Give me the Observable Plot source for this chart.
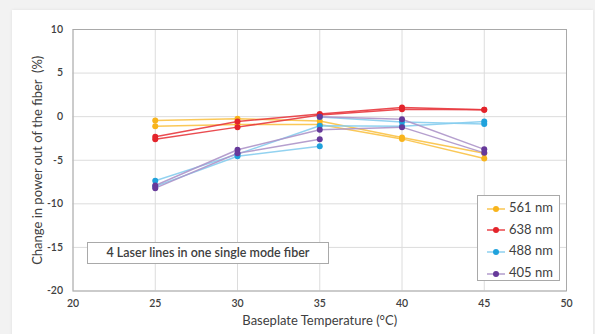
<!DOCTYPE html>
<html>
<head>
<meta charset="utf-8">
<script src="https://cdn.jsdelivr.net/npm/d3@7"></script>
<script src="https://cdn.jsdelivr.net/npm/@observablehq/plot@0.6"></script>
<style>
  html, body { margin: 0; padding: 0; background: #f2f2f2; }
  #wrap { position: relative; width: 595px; height: 334px; overflow: hidden; font-family: Lato, "Open Sans", sans-serif; }
  #card { position: absolute; left: 12px; top: 10px; width: 581px; height: 340px; background: #fff; box-shadow: 0 0 3px rgba(0,0,0,0.08); }
  #chart { position: absolute; left: 0; top: 0; }
  #note { position: absolute; left: 87px; top: 242px; width: 240px; height: 20px; border: 1px solid #a9a9a9; background: #fff;
          font-size: 12.5px; font-weight: 600; color: #404040; text-align: center; line-height: 20px; box-sizing: content-box; }
  #legend { position: absolute; left: 477px; top: 195px; width: 83px; height: 86px; border: 1px solid #a9a9a9; background: #fff; box-sizing: border-box; }
  .item { position: absolute; left: 8px; height: 16px; font-size: 13px; font-weight: 400; color: #404040; line-height: 16px; white-space: nowrap; }
  .item svg { vertical-align: middle; margin-right: 3px; }
</style>
</head>
<body>
<div id="wrap">
  <div id="card"></div>
  <div id="chart"></div>
  <div id="note"></div>
  <div id="legend"></div>
</div>
<script>
// ---- data ----
const temps = [25, 30, 35, 40, 45];
const xTicks = [20, 25, 30, 35, 40, 45, 50];
const yTicks = [-20, -15, -10, -5, 0, 5, 10];
const wavelengths = ["561 nm", "638 nm", "488 nm", "405 nm"];
const markerColors = ["#f8b41c", "#e3242b", "#20a2dc", "#66399a"];
const lineColors = ["#f9c246", "#e8383e", "#86cdee", "#ad95c9"];

const y561a = [-0.45, -0.25, -0.5, -2.4, -4.2];
const y561b = [-1.1, -0.9, -0.9, -2.55, -4.8];
const y638a = [-2.3, -0.55, 0.3, 1.05, 0.8];
const y638b = [-2.6, -1.2, 0.2, 0.85, 0.8];
const y488a = [-7.35, -4.3, -1.05, -1.1, -0.55];
const y488b = [-8.0, -4.55, -3.4, null, null];
const y488c = [null, null, -0.05, -0.6, -0.85];
const y405a = [-7.9, -3.8, -1.5, -1.2, -4.15];
const y405b = [-8.2, -4.2, -2.6, null, null];
const y405c = [null, null, 0.0, -0.3, -3.75];

const noteText = "4 Laser lines in one single mode fiber";
const xTitle = "Baseplate Temperature (°C)";
const yTitle = "Change in power out of the fiber  (%)";

// ---- build table ----
const seriesList = [
  ["561 nm", "a", y561a], ["561 nm", "b", y561b],
  ["638 nm", "a", y638a], ["638 nm", "b", y638b],
  ["488 nm", "a", y488a], ["488 nm", "b", y488b], ["488 nm", "c", y488c],
  ["405 nm", "a", y405a], ["405 nm", "b", y405b], ["405 nm", "c", y405c]
];
const rows = [];
for (const [wl, run, vals] of seriesList) {
  vals.forEach((v, i) => rows.push({wl, run, key: wl + run, t: temps[i], v}));
}
const pts = rows.filter(d => d.v != null);
const lineOf = Object.fromEntries(wavelengths.map((w, i) => [w, lineColors[i]]));
const markOf = Object.fromEntries(wavelengths.map((w, i) => [w, markerColors[i]]));

const chart = Plot.plot({
  width: 595,
  height: 334,
  marginLeft: 72.5,
  marginRight: 29,
  marginTop: 29,
  marginBottom: 43.5,
  style: {background: "transparent", fontFamily: "Lato, 'Open Sans', sans-serif", color: "#404040"},
  x: {domain: [20, 50], ticks: xTicks},
  y: {domain: [-20, 10], ticks: yTicks},
  marks: [
    Plot.gridX(xTicks, {stroke: "#dcdcdc", strokeOpacity: 1}),
    Plot.gridY(yTicks, {stroke: "#dcdcdc", strokeOpacity: 1}),
    Plot.frame({stroke: "#a9a9a9"}),
    Plot.axisX(xTicks, {tickSize: 0, tickPadding: 9, fontSize: 10.5, fontWeight: 600, tickFormat: d => String(d),
      label: xTitle, labelAnchor: "center", labelArrow: "none", labelOffset: 34}),
    Plot.axisY(yTicks, {tickSize: 0, tickPadding: 10, fontSize: 10.5, fontWeight: 600, tickFormat: d => String(d),
      label: yTitle, labelAnchor: "center", labelArrow: "none", labelOffset: 40}),
    Plot.line(rows, {x: "t", y: "v", z: "key", stroke: d => lineOf[d.wl], strokeWidth: 1.5, strokeOpacity: 0.9}),
    Plot.dot(pts, {x: "t", y: "v", r: 3, fill: d => markOf[d.wl], stroke: "none"})
  ]
});
d3.select(chart).selectAll("[aria-label='x-axis label'] text, [aria-label='y-axis label'] text")
  .attr("font-size", 13).attr("font-weight", "normal").attr("fill", "#404040");
document.getElementById("chart").appendChild(chart);

document.getElementById("note").textContent = noteText;

const legend = document.getElementById("legend");
wavelengths.forEach((w, i) => {
  const div = document.createElement("div");
  div.className = "item";
  div.style.top = (3 + i * 21.7) + "px";
  div.innerHTML = `<svg width="20" height="10"><line x1="1" x2="19" y1="5" y2="5" stroke="${lineColors[i]}" stroke-width="1.4"/><circle cx="10" cy="5" r="3" fill="${markerColors[i]}"/></svg>`;
  div.appendChild(document.createTextNode(w));
  legend.appendChild(div);
});
</script>
</body>
</html>
